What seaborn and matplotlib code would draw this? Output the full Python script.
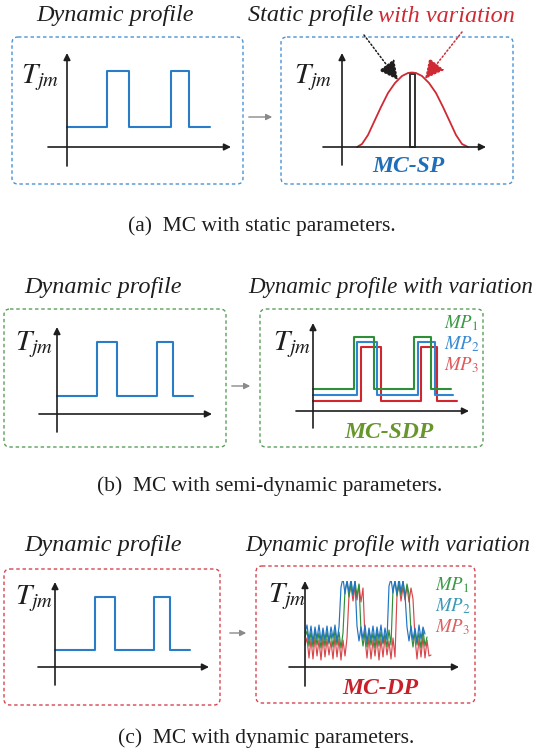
import matplotlib
matplotlib.use("Agg")
import matplotlib.pyplot as plt
import numpy as np
import seaborn as sns
from matplotlib.patches import FancyBboxPatch

# profile data (time / temperature in picture units, origin at the axes cross)
base_t_a = [0, 40, 40, 62, 62, 104, 104, 122, 122, 143]
base_T_a = [20, 20, 76, 76, 20, 20, 76, 76, 20, 20]
base_t_b = [0, 40, 40, 60, 60, 100, 100, 116, 116, 136]
base_T_b = [18, 18, 72, 72, 18, 18, 72, 72, 18, 18]
base_t_c = [0, 40, 40, 60, 60, 99, 99, 115, 115, 135]
base_T_c = [17, 17, 70, 70, 17, 17, 70, 70, 17, 17]

# static profile with variation (distribution of Tjm)
bell_T = [15, 20, 26, 32, 39, 46, 53, 60, 66, 70, 74, 80, 87, 94, 101, 108, 114, 120, 126]
bell_p = [0, 3, 12, 25, 40, 54, 64, 71, 74, 74.5, 74, 71, 64, 54, 40, 25, 12, 3, 0]
static_T = 70.5
static_h = 73

# semi-dynamic parameters
mp1_t = [0, 41, 41, 61, 61, 101, 101, 118, 118, 138]
mp1_T = [22, 22, 74, 74, 22, 22, 74, 74, 22, 22]
mp2_t = [0, 44, 44, 64, 64, 105, 105, 122, 122, 140]
mp2_T = [16, 16, 69, 69, 16, 16, 69, 69, 16, 16]
mp3_t = [0, 48, 48, 68, 68, 108, 108, 124, 124, 144]
mp3_T = [10, 10, 64, 64, 10, 10, 64, 64, 10, 10]

# dynamic parameters (sampled every 2 units)
dp1_T = [30, 36, 21, 35, 20, 37, 22, 34, 19, 36, 21, 35, 23, 34, 20, 37, 22, 35, 19, 34,
         77, 85, 70, 84, 72, 86, 71, 83,
         36, 21, 35, 20, 37, 22, 34, 19, 36, 21, 35, 23, 33, 20, 37, 22,
         78, 85, 71, 84, 72, 86, 70, 83, 73,
         35, 20, 36, 22, 34, 19, 37, 21, 30]
dp2_T = [34, 42, 27, 41, 25, 40, 28, 42, 26, 39, 27, 41, 25, 40, 29, 42, 26, 40,
         80, 89, 73, 87, 75, 88, 72, 86,
         41, 26, 40, 28, 42, 25, 39, 27, 41, 26, 40, 28, 42, 25, 39, 27,
         81, 88, 74, 87, 73, 89, 75, 86, 72,
         40, 26, 41, 27, 39, 25, 42, 28, 40, 33]
dp3_T = [22, 29, 9, 28, 8, 30, 11, 27, 7, 29, 10, 28, 12, 26, 8, 30, 10, 28, 7, 27, 11, 29,
         72, 81, 66, 80, 67, 82, 65, 79,
         28, 9, 30, 8, 27, 11, 29, 7, 28, 10, 30, 12, 26, 8, 29, 10,
         73, 82, 66, 80, 67, 81, 65, 79, 68,
         29, 8, 28, 10, 30, 9, 27, 11, 12]
dp_step = 2

BLUE = "#2a7cc6"
RED = "#cf2a33"
DARK = "#1e1e1e"

sns.set_theme(style="white")
plt.rcParams["font.family"] = ["Liberation Serif", "DejaVu Serif"]
plt.rcParams["mathtext.fontset"] = "stix"

W, H = 536, 754
fig = plt.figure(figsize=(W / 100, H / 100), dpi=100)
canvas = fig.add_axes([0, 0, 1, 1])
canvas.set_xlim(0, W)
canvas.set_ylim(H, 0)
canvas.set_axis_off()


def mini(origin, xspan, yspan):
    ox, oy = origin
    x0, x1 = xspan
    ybot, ytop = yspan
    ax = fig.add_axes([x0 / W, 1 - ybot / H, (x1 - x0) / W, (ybot - ytop) / H])
    ax.set_xlim(x0 - ox, x1 - ox)
    ax.set_ylim(oy - ybot, oy - ytop)
    ax.set_axis_off()
    ax.patch.set_alpha(0)
    arr = dict(arrowstyle="-|>", color=DARK, lw=1.2, shrinkA=0, shrinkB=0, mutation_scale=10)
    ax.annotate("", xy=(x1 - ox, 0), xytext=(x0 - ox, 0), arrowprops=arr, annotation_clip=False)
    ax.annotate("", xy=(0, oy - ytop), xytext=(0, oy - ybot), arrowprops=arr, annotation_clip=False)
    return ax


def line(ax, t, T, color, lw=1.5):
    sns.lineplot(x=t, y=T, ax=ax, color=color, linewidth=lw, estimator=None, sort=False)


def box(x0, y0, x1, y1, color):
    canvas.add_patch(FancyBboxPatch((x0, y0), x1 - x0, y1 - y0,
                                    boxstyle="round,pad=0,rounding_size=6", fill=False,
                                    ec=color, lw=1.0, ls=(0, (2.5, 2))))


def title(x, y, s, color=DARK, ha="center", size=17.5):
    return canvas.text(x, y, s, ha=ha, va="center", fontsize=size, style="italic", color=color)


def tjm(x, y):
    canvas.text(x, y, r"$T_{jm}$", ha="left", va="center", fontsize=21, color=DARK)


def gray_arrow(x0, x1, y):
    canvas.annotate("", xy=(x1, y), xytext=(x0, y),
                    arrowprops=dict(arrowstyle="-|>", color="#8a8a8a", lw=1.0, mutation_scale=9))


def caption(x, y, s):
    canvas.text(x, y, s, ha="center", va="center", fontsize=15.5, color=DARK)


def mp_labels(x, ys, colors):
    for k, (y, c) in enumerate(zip(ys, colors)):
        canvas.text(x, y, r"$MP_%d$" % (k + 1), ha="left", va="center", fontsize=13.5, color=c)


# ---------------- (a) ----------------
box(12, 37, 243, 184, "#4a93d4")
box(281, 37, 513, 184, "#4a93d4")
title(115, 16, "Dynamic profile")
tv = title(515, 16, "with variation", color=RED, ha="right")
fig.canvas.draw()
bb = tv.get_window_extent()
xl = canvas.transData.inverted().transform((bb.x0, bb.y0))[0]
title(xl - 5, 16, "Static profile", ha="right")
gray_arrow(246, 275, 117)
tjm(21, 78)
tjm(294, 78)

ax = mini((67, 147), (48, 231), (166, 53))
line(ax, base_t_a, base_T_a, BLUE)

ax = mini((342, 147), (323, 486), (165, 53))
line(ax, bell_T, bell_p, RED, lw=1.3)
ax.bar([static_T], [static_h], width=5, fill=False, edgecolor="#333333", linewidth=1.4)
canvas.annotate("", xy=(398, 80), xytext=(364, 35),
                arrowprops=dict(arrowstyle="-|>,head_length=0.7,head_width=0.35", color=DARK,
                                lw=1.1, ls=(0, (1, 1.5)), mutation_scale=17, shrinkA=0, shrinkB=0))
canvas.annotate("", xy=(425, 79), xytext=(462, 32),
                arrowprops=dict(arrowstyle="-|>,head_length=0.7,head_width=0.35", color=RED,
                                lw=1.1, ls=(0, (1, 1.5)), mutation_scale=17, shrinkA=0, shrinkB=0))
canvas.text(408, 167, "MC-SP", ha="center", va="center", fontsize=17, weight="bold",
            style="italic", color="#1f6fb8")
caption(262, 226, "(a)  MC with static parameters.")

# ---------------- (b) ----------------
box(4, 309, 226, 447, "#5a9e5a")
box(260, 309, 483, 447, "#5a9e5a")
title(103, 288, "Dynamic profile")
title(533, 288, "Dynamic profile with variation", ha="right", size=16.6)
gray_arrow(229, 253, 386)
tjm(15, 345)
tjm(273, 345)

ax = mini((57, 414), (39, 212), (432, 327))
line(ax, base_t_b, base_T_b, BLUE)

ax = mini((313, 411), (296, 469), (428, 323))
line(ax, mp3_t, mp3_T, "#d2262f")
line(ax, mp2_t, mp2_T, "#2f86d0")
line(ax, mp1_t, mp1_T, "#2f8f38")
mp_labels(444, [323, 344, 365], ["#3c9a46", "#3a8ad2", "#e05a5a"])
canvas.text(389, 432, "MC-SDP", ha="center", va="center", fontsize=17, weight="bold",
            style="italic", color="#67962c")
caption(270, 486, "(b)  MC with semi-dynamic parameters.")

# ---------------- (c) ----------------
box(4, 569, 220, 705, "#d84550")
box(256, 566, 475, 703, "#d84550")
title(103, 545, "Dynamic profile")
title(530, 545, "Dynamic profile with variation", ha="right", size=16.6)
gray_arrow(227, 249, 633)
tjm(15, 599)
tjm(268, 597)

ax = mini((55, 667), (38, 209), (685, 582))
line(ax, base_t_c, base_T_c, BLUE)

ax = mini((305, 667), (289, 459), (686, 581))
line(ax, np.arange(len(dp3_T)) * dp_step, dp3_T, "#d8474c", lw=0.85)
line(ax, np.arange(len(dp1_T)) * dp_step, dp1_T, "#2f8f38", lw=0.85)
line(ax, np.arange(len(dp2_T)) * dp_step, dp2_T, "#1f74c4", lw=0.85)
mp_labels(435, [585, 606, 627], ["#3c9a46", "#3a9ab8", "#e06060"])
canvas.text(380, 688, "MC-DP", ha="center", va="center", fontsize=17, weight="bold",
            style="italic", color="#c8202a")
caption(266, 738, "(c)  MC with dynamic parameters.")

fig.savefig("out.png", dpi=100)
